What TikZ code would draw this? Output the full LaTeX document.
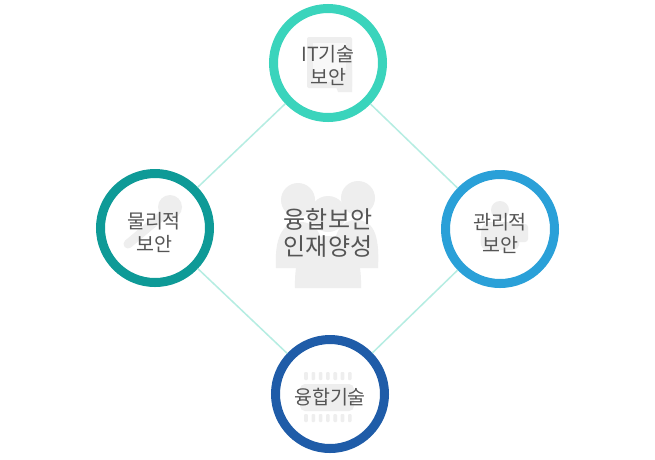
\documentclass[tikz,border=0pt]{standalone}
\usepackage{fontspec}
\newfontfamily\kr{Noto Sans CJK KR}
\definecolor{ctop}{HTML}{3AD4BC}
\definecolor{cleft}{HTML}{0E9A97}
\definecolor{cright}{HTML}{2AA0D8}
\definecolor{cbot}{HTML}{1F5CA8}
\definecolor{cline}{HTML}{B5EDE2}
\definecolor{cicon}{HTML}{EEEEEE}
\definecolor{ctext}{HTML}{555555}
\begin{document}
\begin{tikzpicture}[x=1pt,y=-1pt,
  ring/.style={circle,draw=#1,line width=9pt,minimum size=109pt,inner sep=0pt},
  lbl/.style={text=ctext,font=\kr\fontsize{19.5}{23}\selectfont,align=center},
  conn/.style={draw=cline,line width=1.5pt}]
\useasboundingbox[fill=white] (0,0) rectangle (655,459);
% ---- background icons ----
% center: group of people
\fill[cicon] (298,200) circle (17);
\fill[cicon] (358,198) circle (17);
\fill[cicon] (328,214) circle (18);
\fill[cicon] (276,268) .. controls (274,232) and (286,222) .. (300,222)
  .. controls (316,222) and (324,232) .. (324,268) -- cycle;
\fill[cicon] (332,268) .. controls (332,230) and (342,220) .. (356,220)
  .. controls (372,220) and (380,232) .. (378,268) -- cycle;
\fill[cicon] (295,288) .. controls (294,248) and (308,236) .. (328,236)
  .. controls (348,236) and (362,248) .. (361,288) -- cycle;
% top: document
\fill[cicon,rounded corners=2pt] (307,37) rectangle (352,88);
\fill[white!60!cicon] (313,43) rectangle (346,82);
\fill[cicon] (330,70) -- (352,70) -- (352,92) -- (338,92) -- cycle;
% left: key
\draw[cicon,line width=9pt,line cap=round] (164,214) -- (128,244);
\fill[cicon] (170,207) circle (12);
% right: person
\fill[cicon] (500,210) circle (9);
\fill[cicon,rounded corners=8pt] (480,250) -- (482,222) -- (518,222) -- (520,250) -- cycle;
\fill[cicon,rounded corners=3pt] (516,224) rectangle (528,242);
% bottom: chip
\fill[cicon,rounded corners=5pt] (300,384) rectangle (354,411);
\foreach \i in {0,...,6} {
  \fill[cicon,rounded corners=1pt] (306+\i*7.3-1.8,372) rectangle (306+\i*7.3+1.8,380);
  \fill[cicon,rounded corners=1pt] (306+\i*7.3-1.8,414) rectangle (306+\i*7.3+1.8,422);
}
% ---- rings ----
\node[ring=ctop]   (t) at (328,63)  {};
\node[ring=cleft]  (l) at (155,228) {};
\node[ring=cright] (r) at (500,229) {};
\node[ring=cbot]   (b) at (330,394) {};
% ---- connectors ----
\draw[conn] (t) -- (l);
\draw[conn] (t) -- (r);
\draw[conn] (l) -- (b);
\draw[conn] (r) -- (b);
% ---- labels ----
\node[lbl] (tl) at (328,65)  {IT기술\\보안};
\node[lbl] (ll) at (154,232) {물리적\\보안};
\node[lbl] (rl) at (500,233) {관리적\\보안};
\node[lbl] (bl) at (330,397) {융합기술};
\node[text=ctext,font=\kr\fontsize{24}{27}\selectfont,align=center] (c) at (328,233) {융합보안\\인재양성};
\end{tikzpicture}
\end{document}
